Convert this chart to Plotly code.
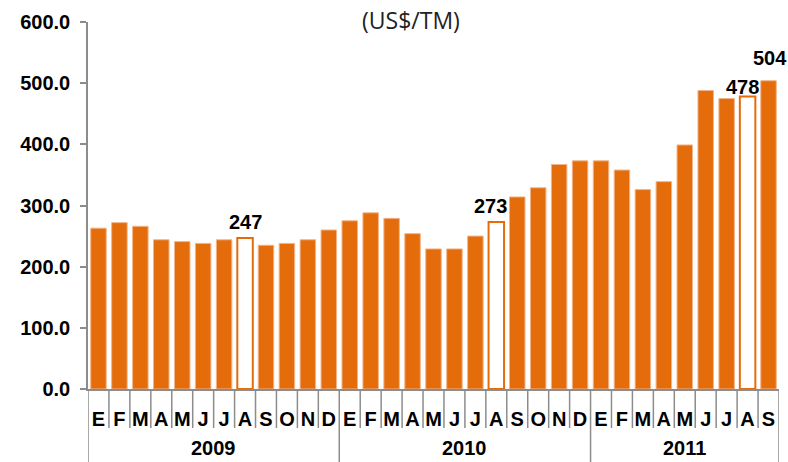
import plotly.graph_objects as go

years = ["2009", "2010", "2011"]
months_per_year = [12, 12, 9]
month_letters = ["E", "F", "M", "A", "M", "J", "J", "A", "S", "O", "N", "D"]

values = [263, 272, 266, 244, 241, 238, 244, 247, 235, 238, 244, 260,
          275, 288, 279, 254, 229, 229, 250, 273, 314, 329, 367, 373,
          373, 358, 326, 339, 399, 488, 475, 478, 504]

hollow_idx = [7, 19, 31]
label_idx = [7, 19, 31, 32]
label_text = ["247", "273", "478", "504"]

ORANGE = "#E46C0A"
EDGE = "#F2B48A"
GRAY = "#8C8C8C"

month_ticktext = []
for n in months_per_year:
    month_ticktext += month_letters[:n]
xs = list(range(len(values)))

fill = ["white" if i in hollow_idx else ORANGE for i in xs]
line_col = [ORANGE if i in hollow_idx else EDGE for i in xs]
line_w = [2 if i in hollow_idx else 1 for i in xs]

fig = go.Figure()
fig.add_trace(go.Bar(
    x=xs, y=values,
    marker=dict(color=fill, line=dict(color=line_col, width=line_w)),
    width=0.74, hoverinfo="skip",
))

bold = dict(family="Liberation Sans, Arial, sans-serif", size=20, color="black", weight="bold")

PLOT_H = 462 - 22 - 73

annotations = []
shifts = {7: 3, 19: 3, 31: -3, 32: 10}
xshift = {7: 0, 19: -6, 31: -5, 32: 1}
for i, t in zip(label_idx, label_text):
    annotations.append(dict(x=i, y=values[i], text=t, showarrow=False,
                            yanchor="bottom", yshift=shifts[i], xshift=xshift[i],
                            font=bold))

# year labels and separators
shapes = []
start = 0
bottom = -(462 - 389) / PLOT_H
for yr, n in zip(years, months_per_year):
    mid = start + (n - 1) / 2
    annotations.append(dict(x=mid, y=-(448 - 389) / PLOT_H, yref="paper", text=yr,
                            showarrow=False, yanchor="middle", font=bold,
                            borderpad=0))
    start += n
boundaries = [0]
acc = 0
for n in months_per_year:
    acc += n
    boundaries.append(acc)
for b in range(len(values) + 1):
    y1 = bottom if b in boundaries else -(428 - 389) / PLOT_H
    shapes.append(dict(type="line", xref="x", yref="paper", x0=b - 0.5, x1=b - 0.5,
                       y0=0, y1=y1, line=dict(color=GRAY, width=1.5)))

annotations.append(dict(x=(411 - 88) / (779 - 88), xref="paper",
                        y=1.0 + (22 - 20) / PLOT_H, yref="paper",
                        text="(US$/TM)", showarrow=False, yanchor="middle",
                        font=dict(family="Open Sans, sans-serif", size=23, color="#222")))

fig.update_layout(
    width=788, height=462,
    margin=dict(l=88, r=9, t=22, b=73, autoexpand=False),
    paper_bgcolor="white", plot_bgcolor="white",
    showlegend=False,
    annotations=annotations,
    shapes=shapes,
    xaxis=dict(range=[-0.5, len(values) - 0.5], tickmode="array", tickvals=xs,
               ticktext=month_ticktext, ticks="outside", ticklen=11,
               tickcolor="rgba(0,0,0,0)", tickfont=bold, showline=True,
               linecolor=GRAY, linewidth=1.5, showgrid=False, zeroline=False,
               automargin=False),
    yaxis=dict(range=[0, 600], tickmode="array", tickvals=[0, 100, 200, 300, 400, 500, 600],
               tickformat=".1f", ticks="outside", ticklen=6, tickcolor=GRAY, tickwidth=1.5,
               showline=True, linecolor=GRAY, linewidth=1.5, showgrid=False,
               zeroline=False, tickfont=bold, ticklabelstandoff=6, automargin=False),
)

fig.write_html("out.html", config={"displayModeBar": False},
               post_script="document.body.style.margin='0';")
